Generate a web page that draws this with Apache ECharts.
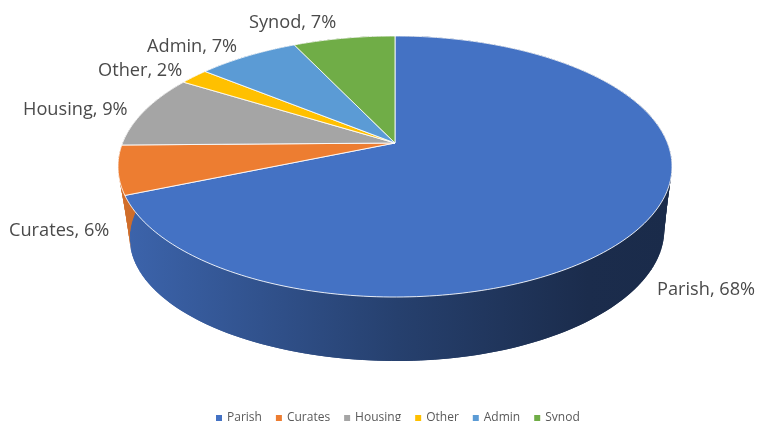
<!DOCTYPE html>
<html>
<head>
<meta charset="utf-8">
<style>
  html, body { margin: 0; padding: 0; background: #fff; }
  #main { width: 757px; height: 421px; overflow: hidden; }
</style>
</head>
<body>
<div id="main"></div>
<script src="https://cdn.jsdelivr.net/npm/echarts@6/dist/echarts.min.js"></script>
<script>
const categories = ['Parish', 'Curates', 'Housing', 'Other', 'Admin', 'Synod']
const values = [68, 6, 9, 2, 7, 7]
const colors = ['#4472c4', '#ed7d31', '#a5a5a5', '#ffc000', '#5b9bd5', '#70ad47']

// perspective of the tilted disc, top face and bottom face
// lean: the bottom rim sits a bit higher on the right in the original
const topFace = { cx: 395, cy: 143, a: 272.5, b: 126.3, k: 0.18, lean: 0 }
const bottomFace = { cx: 397, cy: 201, a: 255, b: 112, k: 0.3, lean: 9 }
// label left edge / middle y
const labelPos = [[657, 290], [9, 231], [23, 110], [98, 71], [147, 47], [249, 23]]

const total = values.reduce((sum, v) => sum + v, 0)

function project(face, angle) {
  const X = Math.sin(angle)
  const Y = Math.cos(angle)
  const w = 1 + face.k * Y
  const lift = X > 0 ? face.lean * X * X : 0
  return [face.cx + face.a * X / w, face.cy - face.b * Y / w - lift]
}

function arc(face, from, to) {
  const steps = Math.max(2, Math.ceil((to - from) / 0.02))
  const pts = []
  for (let i = 0; i <= steps; i++) {
    pts.push(project(face, from + (to - from) * i / steps))
  }
  return pts
}

function shade(color, f) {
  const c = echarts.color.parse(color)
  return `rgb(${Math.round(c[0] * f)},${Math.round(c[1] * f)},${Math.round(c[2] * f)})`
}

function wallFill(color) {
  return new echarts.graphic.LinearGradient(124, 0, 670, 0, [
    { offset: 0, color: shade(color, 0.88) },
    { offset: 0.5, color: shade(color, 0.56) },
    { offset: 0.85, color: shade(color, 0.39) },
    { offset: 1, color: shade(color, 0.38) }
  ], true)
}

function renderSlice(params, api) {
  const i = params.seriesIndex
  const before = values.slice(0, i).reduce((sum, v) => sum + v, 0)
  const from = before / total * Math.PI * 2
  const to = from + api.value(0) / total * Math.PI * 2
  const rim = arc(topFace, from, to)
  const floor = arc(bottomFace, from, to)
  const children = []
  // wall as overlapping strips, a single outline breaks where the two rims cross
  for (let s = 0; s < rim.length - 1; s++) {
    const e = Math.min(s + 2, rim.length - 1)
    children.push({
      type: 'polygon',
      z2: 1,
      shape: { points: [rim[s], rim[e], floor[e], floor[s]] },
      style: { fill: wallFill(colors[i]) }
    })
  }
  children.push({
    type: 'polygon',
    z2: 10,
    shape: { points: [[topFace.cx, topFace.cy]].concat(rim) },
    style: { fill: colors[i], stroke: 'rgba(255,255,255,0.85)', lineWidth: 1 }
  })
  children.push({
    type: 'text',
    z2: 20,
    x: labelPos[i][0],
    y: labelPos[i][1],
    style: {
      text: categories[i] + ', ' + api.value(0) + '%',
      fill: '#4a4a4a',
      font: '18.2px "Open Sans"',
      textAlign: 'left',
      textVerticalAlign: 'middle'
    }
  })
  return { type: 'group', children: children }
}

const chart = echarts.init(document.getElementById('main'))
chart.setOption({
  animation: false,
  color: colors,
  legend: {
    data: categories,
    selectedMode: false,
    left: 216,
    top: 412,
    padding: 0,
    icon: 'rect',
    itemWidth: 6,
    itemHeight: 6,
    itemGap: 14,
    textStyle: { color: '#595959', fontFamily: 'Open Sans', fontSize: 12 }
  },
  series: categories.map((name, i) => ({
    name: name,
    type: 'custom',
    coordinateSystem: 'none',
    silent: true,
    itemStyle: { color: colors[i] },
    renderItem: renderSlice,
    data: [[values[i]]]
  }))
})
</script>
</body>
</html>
